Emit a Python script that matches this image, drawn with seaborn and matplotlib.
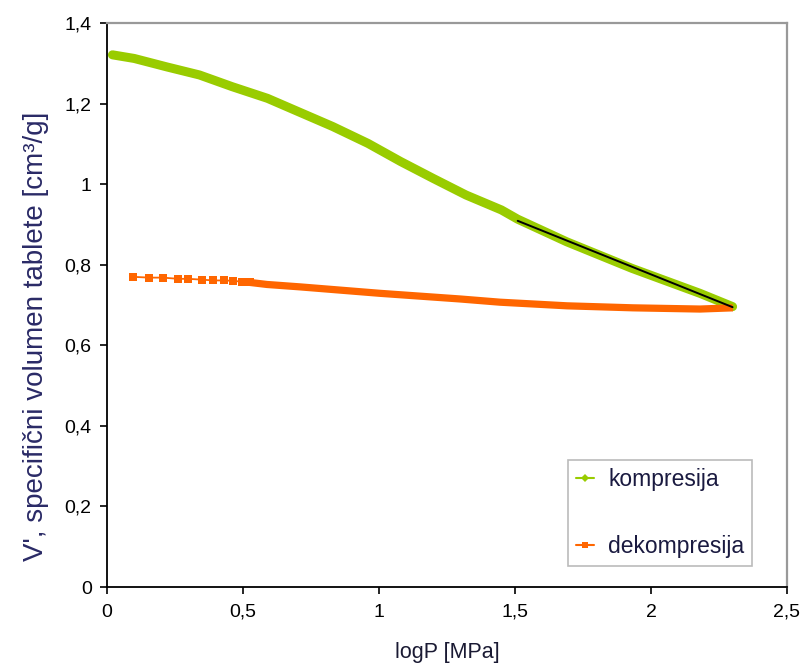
import matplotlib
matplotlib.use("Agg")
import matplotlib.pyplot as plt
from matplotlib.ticker import FixedLocator, FixedFormatter
from matplotlib.lines import Line2D
import seaborn as sns
import pandas as pd

# Compression curve: log pressure [MPa] vs. specific tablet volume [cm3/g]
logp_komp = [0.02, 0.10, 0.22, 0.34, 0.46, 0.59, 0.71, 0.83, 0.96, 1.08,
             1.20, 1.32, 1.45, 1.51, 1.69, 1.93, 2.18, 2.30]
v_komp = [1.321, 1.312, 1.291, 1.271, 1.242, 1.213, 1.178, 1.143, 1.101, 1.056,
          1.014, 0.973, 0.936, 0.913, 0.857, 0.791, 0.729, 0.696]

# Decompression curve
logp_dekomp = [0.095, 0.155, 0.205, 0.262, 0.299, 0.348, 0.391, 0.430, 0.464,
               0.495, 0.526, 0.588, 0.710, 0.857, 1.004, 1.151, 1.298, 1.445,
               1.691, 1.934, 2.180, 2.301]
v_dekomp = [0.770, 0.768, 0.768, 0.765, 0.765, 0.763, 0.761, 0.761, 0.760,
            0.758, 0.756, 0.751, 0.745, 0.737, 0.729, 0.722, 0.715, 0.707,
            0.698, 0.693, 0.690, 0.693]

# Linear region fitted on the compression curve
fit_start = 1.5

x_ticks = [0, 0.5, 1, 1.5, 2, 2.5]
x_tick_labels = ["0", "0,5", "1", "1,5", "2", "2,5"]
y_ticks = [0, 0.2, 0.4, 0.6, 0.8, 1.0, 1.2, 1.4]
y_tick_labels = ["0", "0,2", "0,4", "0,6", "0,8", "1", "1,2", "1,4"]

series_labels = ["kompresija", "dekompresija"]
green = "#99CC00"
orange = "#FF6600"

sns.set_theme(style="white")
plt.rcParams["font.family"] = ["Liberation Sans", "DejaVu Sans"]

komp = pd.DataFrame({"logP": logp_komp, "V": v_komp})
dekomp = pd.DataFrame({"logP": logp_dekomp, "V": v_dekomp})

fig = plt.figure(figsize=(8.01, 6.63), dpi=100)
ax = fig.add_axes([0.1336, 0.1146, 0.8489, 0.8507])

# compression band
sns.lineplot(data=komp, x="logP", y="V", ax=ax, color=green, lw=6.5,
             solid_capstyle="round", solid_joinstyle="round", sort=False,
             estimator=None)

# decompression: sparse square markers at low pressure, dense band above
sparse = dekomp[dekomp["logP"] <= 0.53]
dense = dekomp[dekomp["logP"] >= 0.495]
sns.lineplot(data=sparse, x="logP", y="V", ax=ax, color=orange, lw=1.3,
             marker="s", markersize=6, markeredgewidth=0, sort=False,
             estimator=None)
sns.lineplot(data=dense, x="logP", y="V", ax=ax, color=orange, lw=5.2,
             solid_capstyle="butt", solid_joinstyle="round", sort=False,
             estimator=None)

# linear trend line on the high-pressure part of the compression curve
sns.regplot(data=komp[komp["logP"] >= fit_start], x="logP", y="V", ax=ax,
            scatter=False, ci=None, truncate=True,
            line_kws={"color": "black", "lw": 1.4})

ax.set_xlim(0, 2.5)
ax.set_ylim(0, 1.4)
ax.xaxis.set_major_locator(FixedLocator(x_ticks))
ax.xaxis.set_major_formatter(FixedFormatter(x_tick_labels))
ax.yaxis.set_major_locator(FixedLocator(y_ticks))
ax.yaxis.set_major_formatter(FixedFormatter(y_tick_labels))
ax.tick_params(axis="both", which="major", direction="out", length=5,
               width=1.2, color="black", labelsize=14, labelcolor="black",
               left=True, bottom=True)
ax.tick_params(axis="x", pad=7)
ax.tick_params(axis="y", pad=6)

for side in ("left", "bottom"):
    ax.spines[side].set_color("black")
    ax.spines[side].set_linewidth(1.3)
for side in ("top", "right"):
    ax.spines[side].set_color("#999999")
    ax.spines[side].set_linewidth(1.6)
ax.grid(False)
ax.set_facecolor("white")

ax.set_xlabel("logP [MPa]", fontsize=15.5, color="#1a1a33", labelpad=15)
ax.set_ylabel("V', specifični volumen tablete [cm³/g]", fontsize=20,
              color="#2a2a66")
ax.yaxis.set_label_coords(-0.086, 0.445)

# legend with line-and-marker handles
handles = [
    Line2D([], [], color=green, lw=1.5, marker="D", markersize=4,
           markeredgewidth=0),
    Line2D([], [], color=orange, lw=1.5, marker="s", markersize=4,
           markeredgewidth=0),
]
leg = ax.legend(handles, series_labels, loc="upper left",
                bbox_to_anchor=(0.678, 0.225), borderaxespad=0,
                fontsize=16.5, frameon=True, fancybox=False, shadow=False,
                handlelength=0.8, handletextpad=0.6, labelspacing=1.9,
                borderpad=0.35, labelcolor="#1a1a40")
leg.get_frame().set_edgecolor("#aaaaaa")
leg.get_frame().set_linewidth(1.2)

fig.savefig("out.png", dpi=100, facecolor="white")
